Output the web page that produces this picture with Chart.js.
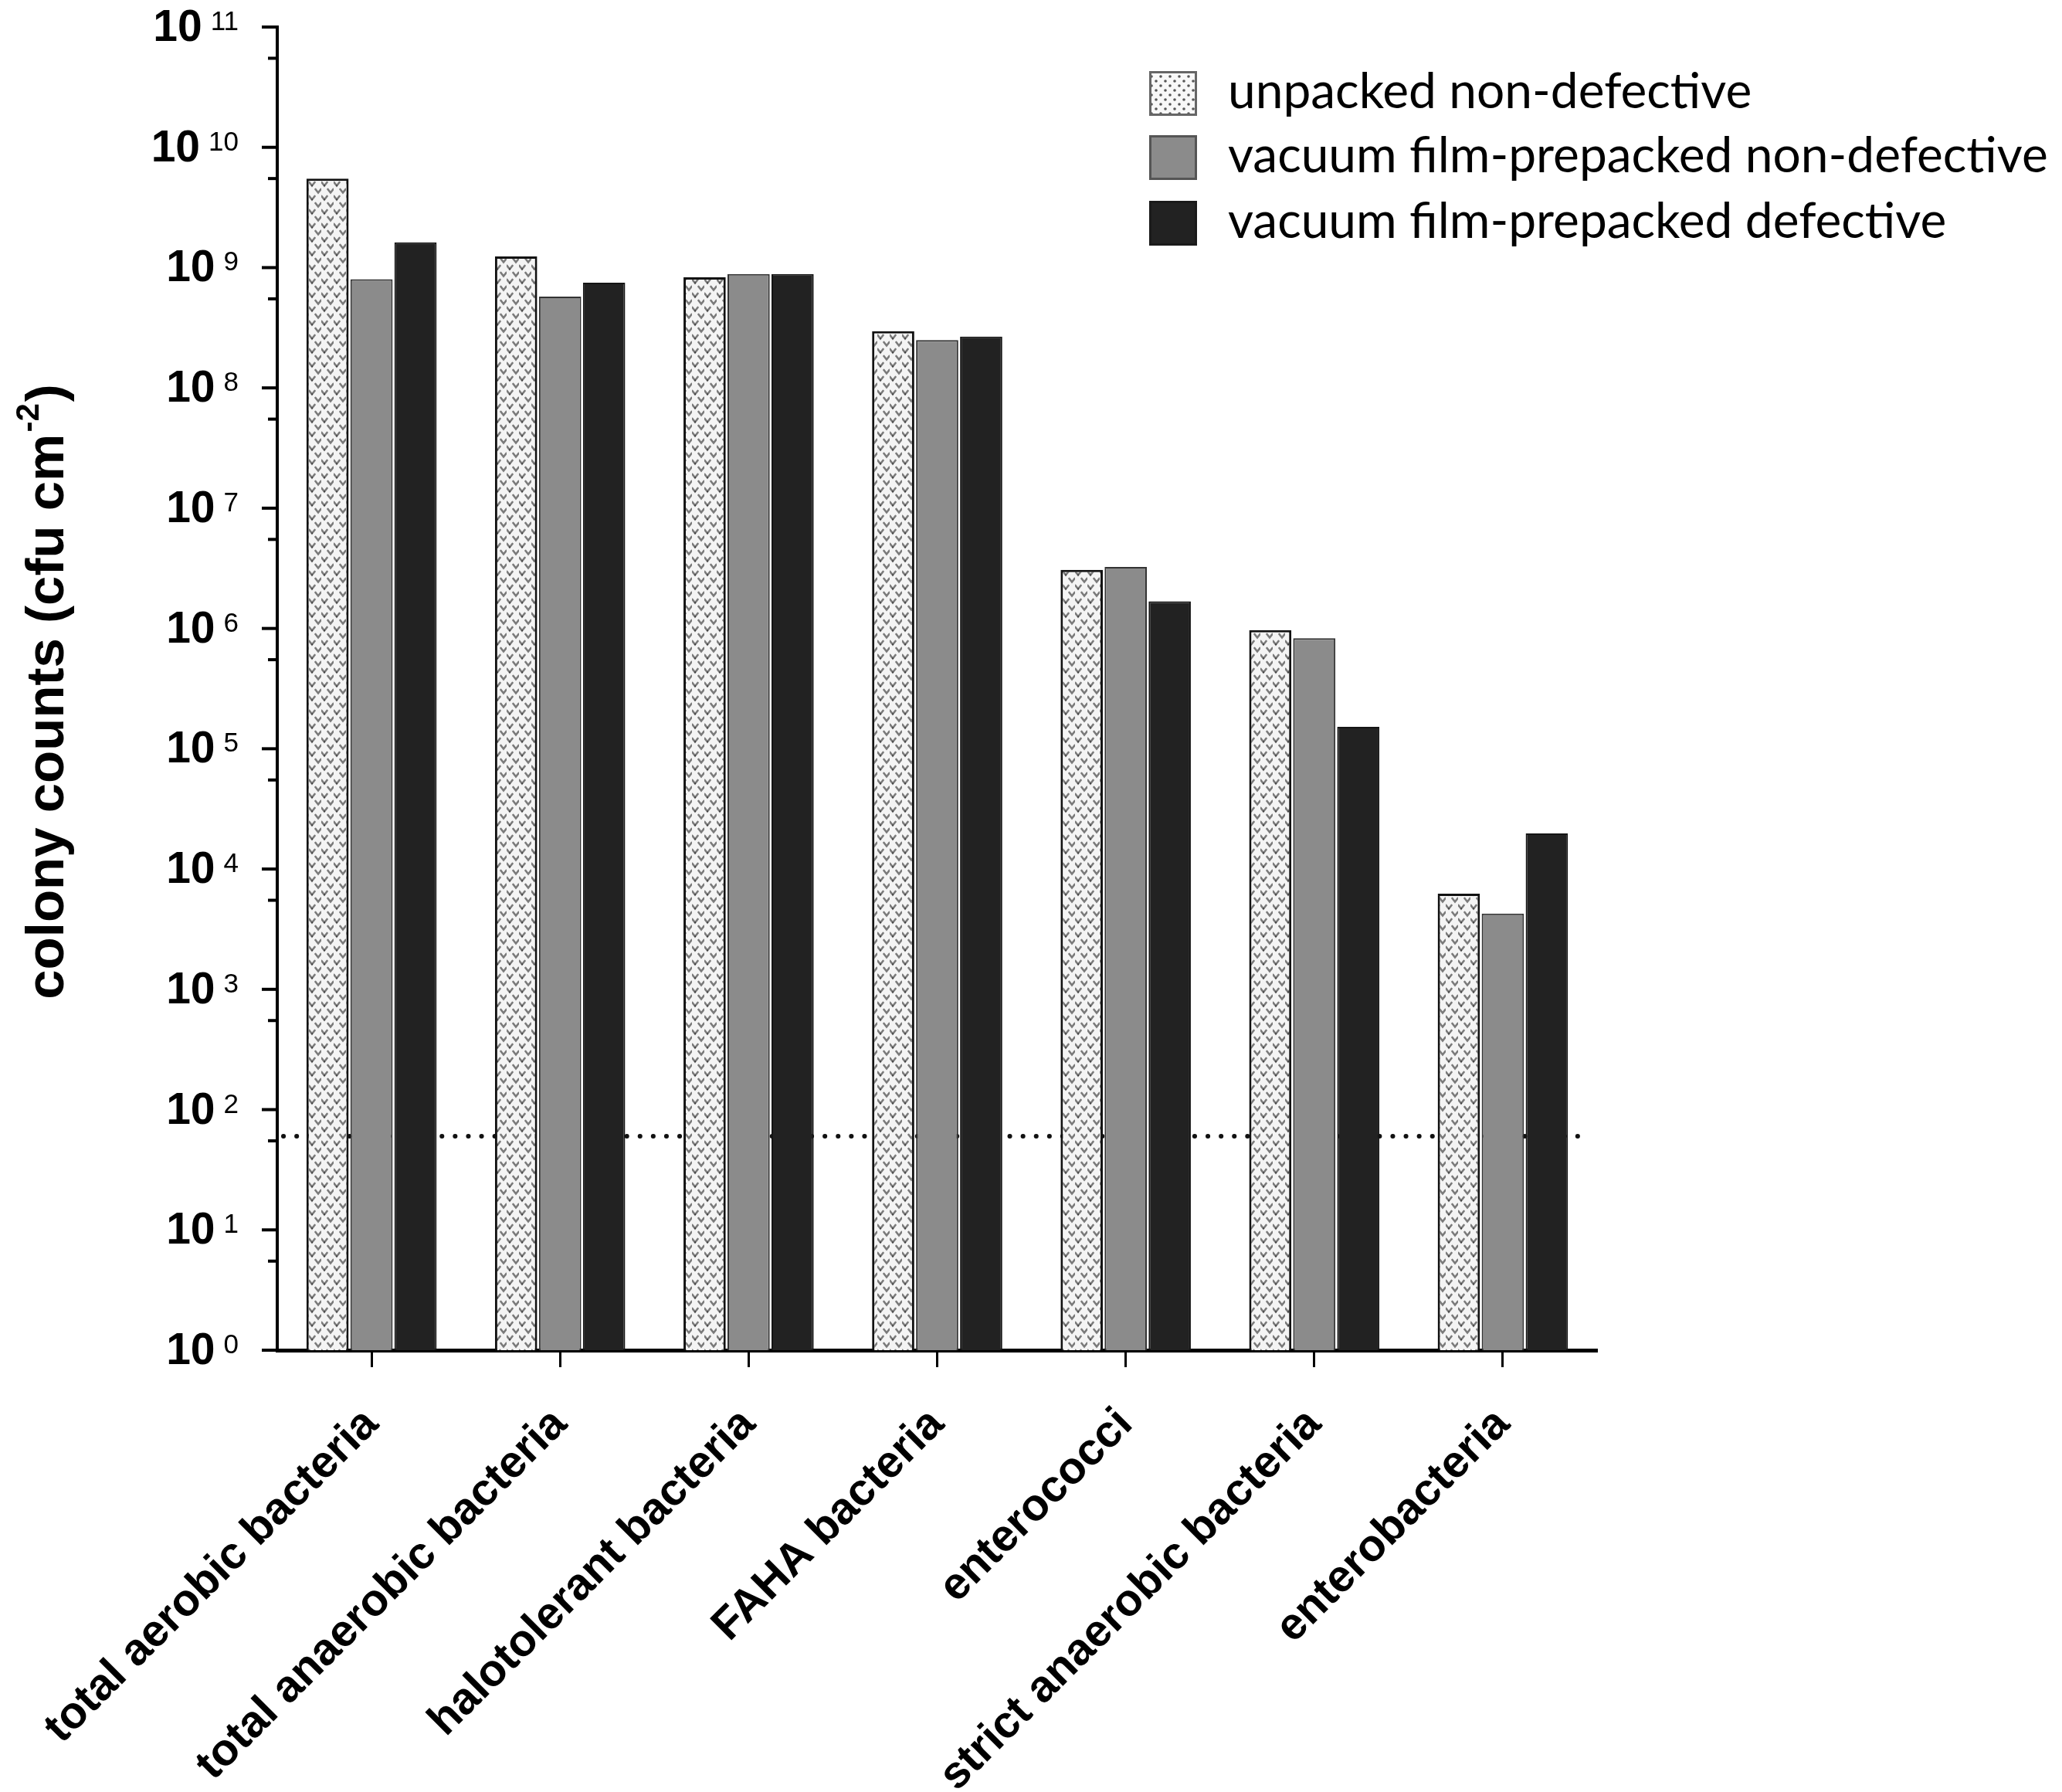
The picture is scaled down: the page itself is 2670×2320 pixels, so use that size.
<!DOCTYPE html>
<html>
<head>
<meta charset="utf-8">
<script src="https://cdn.jsdelivr.net/npm/chart.js@4/dist/chart.umd.min.js"></script>
<style>
html,body{margin:0;padding:0;background:#fff;}
#wrap{width:2670px;height:2320px;position:relative;}
</style>
</head>
<body>
<div id="wrap"><canvas id="c" width="2670" height="2320"></canvas></div>
<script>
// ---- data ----
const categories = ['total aerobic bacteria','total anaerobic bacteria','halotolerant bacteria','FAHA bacteria','enterococci','strict anaerobic bacteria','enterobacteria'];
const seriesNames = ['unpacked non-defective','vacuum film-prepacked non-defective','vacuum film-prepacked defective'];
const unpackedNonDefective = [5.5e9, 1.24e9, 8.3e8, 2.96e8, 3.07e6, 9.7e5, 6.25e3];
const vacuumNonDefective   = [8.0e8, 5.75e8, 8.85e8, 2.5e8, 3.25e6, 8.3e5, 4.26e3];
const vacuumDefective      = [1.62e9, 7.5e8, 8.85e8, 2.67e8, 1.68e6, 1.52e5, 1.98e4];
const yTickExponents = [0,1,2,3,4,5,6,7,8,9,10,11];
const yMinorMultiplier = 5.5;
const detectionLimit = 60;
const yTitleMain = 'colony counts (cfu cm';
const yTitleSup = '-2';
const yTitleEnd = ')';

// ---- pattern ----
function makePattern(){
  const p = document.createElement('canvas');
  p.width = 16; p.height = 18;
  const g = p.getContext('2d');
  g.fillStyle = '#f4f4f4'; g.fillRect(0,0,16,18);
  g.strokeStyle = '#7a7a7a'; g.lineWidth = 2.6; g.lineCap='round';
  function chev(x,y){ g.beginPath(); g.moveTo(x-3.5,y-2.5); g.lineTo(x,y+2); g.lineTo(x+3.5,y-2.5); g.stroke(); }
  chev(4,4.5); chev(12,13.5);
  g.fillStyle = '#333';
  g.fillRect(3.3,5.5,1.6,1.6);
  return g.createPattern(p,'repeat');
}
function makeLegendPattern(){
  const p = document.createElement('canvas');
  p.width = 12; p.height = 12;
  const g = p.getContext('2d');
  g.fillStyle = '#f8f8f8'; g.fillRect(0,0,12,12);
  g.fillStyle = '#555';
  g.beginPath(); g.arc(3,3,1.8,0,Math.PI*2); g.fill();
  g.beginPath(); g.arc(9,9,1.8,0,Math.PI*2); g.fill();
  return g.createPattern(p,'repeat');
}
const pat = makePattern();
const legPat = makeLegendPattern();

const fills = [pat, '#8b8b8b', '#222222'];
const legendFills = [legPat, '#8b8b8b', '#222222'];
const borders = ['#111111', '#333333', '#151515'];

const customPlugin = {
  id: 'custom',
  beforeDatasetsDraw(chart){
    const ctx = chart.ctx, y = chart.scales.y, a = chart.chartArea;
    const py = y.getPixelForValue(detectionLimit);
    ctx.save();
    ctx.strokeStyle = '#111';
    ctx.lineWidth = 6;
    ctx.lineCap = 'round';
    ctx.setLineDash([0.1, 17]);
    ctx.beginPath(); ctx.moveTo(a.left+8, py); ctx.lineTo(a.right-22, py); ctx.stroke();
    ctx.restore();
  },
  afterDraw(chart){
    const ctx = chart.ctx, ys = chart.scales.y, a = chart.chartArea;
    ctx.save();
    // y ticks
    ctx.strokeStyle = '#000'; ctx.lineWidth = 4;
    yTickExponents.forEach(e => {
      const py = ys.getPixelForValue(Math.pow(10,e));
      ctx.beginPath(); ctx.moveTo(a.left-20, py); ctx.lineTo(a.left, py); ctx.stroke();
      if (e < yTickExponents[yTickExponents.length-1]) {
        const pm = ys.getPixelForValue(yMinorMultiplier*Math.pow(10,e));
        ctx.beginPath(); ctx.moveTo(a.left-12, pm); ctx.lineTo(a.left, pm); ctx.stroke();
      }
    });
    // y tick labels 10^n
    const rightEdge = a.left - 50;
    yTickExponents.forEach(e => {
      const py = ys.getPixelForValue(Math.pow(10,e));
      ctx.fillStyle = '#000';
      ctx.font = '35px "Liberation Sans", Arial, sans-serif';
      const ew = ctx.measureText(String(e)).width;
      ctx.textAlign = 'right'; ctx.textBaseline = 'alphabetic';
      ctx.fillText(String(e), rightEdge, py + 4);
      ctx.font = 'bold 57px "Liberation Sans", Arial, sans-serif';
      ctx.fillText('10', rightEdge - ew - 11, py + 18);
    });
    // y title
    ctx.translate(58, (a.top + a.bottom)/2 + 4);
    ctx.rotate(-Math.PI/2);
    const mainFont = 'bold 69px "Liberation Sans", Arial, sans-serif';
    const supFont = 'bold 42px "Liberation Sans", Arial, sans-serif';
    ctx.font = mainFont; const w1 = ctx.measureText(yTitleMain).width; const w3 = ctx.measureText(yTitleEnd).width;
    ctx.font = supFont; const w2 = ctx.measureText(yTitleSup).width;
    const total = w1 + w2 + w3 + 4;
    let x = -total/2;
    ctx.textAlign = 'left'; ctx.textBaseline = 'alphabetic';
    ctx.font = mainFont; ctx.fillText(yTitleMain, x, 24); x += w1;
    ctx.font = supFont; ctx.fillText(yTitleSup, x+2, -8); x += w2 + 4;
    ctx.font = mainFont; ctx.fillText(yTitleEnd, x, 24);
    ctx.restore();
    // legend
    ctx.save();
    const centers = [121, 204, 289];
    seriesNames.forEach((name, i) => {
      const cy = centers[i];
      ctx.fillStyle = legendFills[i];
      ctx.fillRect(1488, cy-29, 62, 58);
      ctx.strokeStyle = i===0 ? '#666' : (i===1 ? '#555' : '#1a1a1a');
      ctx.lineWidth = 3;
      ctx.strokeRect(1489.5, cy-27.5, 59, 55);
      ctx.fillStyle = '#000';
      ctx.font = '64px Lato, "Open Sans", sans-serif';
      ctx.textAlign = 'left'; ctx.textBaseline = 'alphabetic';
      ctx.fillText(name, 1590, cy + 19);
    });
    ctx.restore();
  }
};

new Chart(document.getElementById('c'), {
  type: 'bar',
  data: {
    labels: categories,
    datasets: [
      {label: seriesNames[0], data: unpackedNonDefective, backgroundColor: fills[0], borderColor: borders[0], borderWidth: 3},
      {label: seriesNames[1], data: vacuumNonDefective, backgroundColor: fills[1], borderColor: borders[1], borderWidth: 2},
      {label: seriesNames[2], data: vacuumDefective, backgroundColor: fills[2], borderColor: borders[2], borderWidth: 2}
    ]
  },
  options: {
    responsive: false,
    animation: false,
    devicePixelRatio: 1,
    layout: {padding: {left: 0, top: 35, right: 602, bottom: 0}},
    datasets: {bar: {categoryPercentage: 0.7, barPercentage: 0.96}},
    plugins: {legend: {display: false}, tooltip: {enabled: false}, title: {display: false}},
    scales: {
      x: {
        type: 'category',
        grid: {display: true, drawOnChartArea: false, drawTicks: true, tickLength: 22, tickWidth: 3, tickColor: '#000', offset: false},
        border: {display: true, color: '#000', width: 5},
        ticks: {
          autoSkip: false, maxRotation: 45, minRotation: 45, padding: 40,
          color: '#000',
          font: {family: '"Liberation Sans", Arial, sans-serif', size: 58, weight: 'bold'}
        },
        afterFit(s){ s.height = 2320 - 1748; }
      },
      y: {
        type: 'logarithmic',
        min: 1, max: 1e11,
        grid: {display: false},
        border: {display: true, color: '#000', width: 4},
        ticks: {display: false},
        afterFit(s){ s.width = 359; }
      }
    }
  },
  plugins: [customPlugin]
});
</script>
</body>
</html>
